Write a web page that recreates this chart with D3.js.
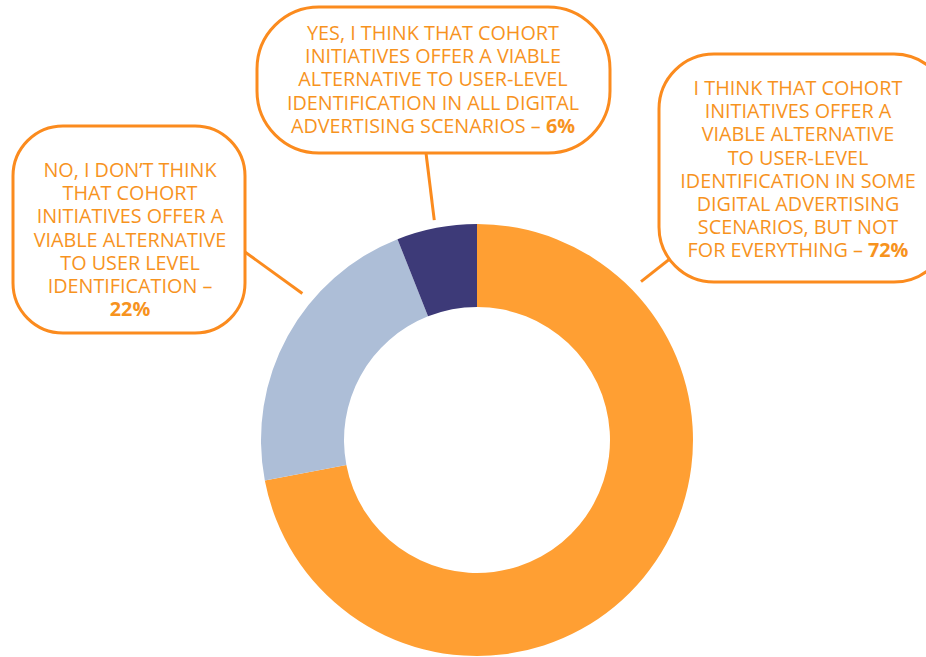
<!DOCTYPE html>
<html>
<head>
<meta charset="utf-8">
<script src="https://cdn.jsdelivr.net/npm/d3@7"></script>
<style>
  body { margin: 0; background: #fff; }
  svg { display: block; font-family: "Open Sans", sans-serif; }
</style>
</head>
<body>
<svg id="chart" width="926" height="657"></svg>
<script>
// data
const categories = ["Some scenarios", "No", "All scenarios"];
const values = [72, 22, 6];
const colors = ["#ff9f33", "#adbed7", "#3d3a78"];

const labelLines = [
  ["I THINK THAT COHORT", "INITIATIVES OFFER A", "VIABLE ALTERNATIVE", "TO USER-LEVEL",
   "IDENTIFICATION IN SOME", "DIGITAL ADVERTISING", "SCENARIOS, BUT NOT", "FOR EVERYTHING – "],
  ["NO, I DON’T THINK", "THAT COHORT", "INITIATIVES OFFER A", "VIABLE ALTERNATIVE",
   "TO USER LEVEL", "IDENTIFICATION –", ""],
  ["YES, I THINK THAT COHORT", "INITIATIVES OFFER A VIABLE", "ALTERNATIVE TO USER-LEVEL",
   "IDENTIFICATION IN ALL DIGITAL", "ADVERTISING SCENARIOS – "]
];

// bubble layout (box, corner radius, text centre, pointer)
const bubbles = [
  { x: 659, y: 54, w: 290, h: 228, r: 55, tx: 798, ty: 88, p1: [676, 254], angle: 46 },
  { x: 13, y: 126, w: 232, h: 207, r: 50, tx: 130, ty: 170, p1: [245, 252], angle: -50 },
  { x: 257, y: 7, w: 353, h: 146, r: 62, tx: 433, ty: 33, p1: [426, 153], angle: -11 }
];

const cx = 477, cy = 440, outerR = 216, innerR = 133;
const lineH = 23.2;
const stroke = "#fb8b1e";
const textCol = "#f7931e";

const svg = d3.select("#chart");

const pie = d3.pie().sort(null).value(d => d);
const arc = d3.arc().innerRadius(innerR).outerRadius(outerR);

const g = svg.append("g").attr("transform", `translate(${cx},${cy})`);
g.selectAll("path")
  .data(pie(values))
  .join("path")
  .attr("d", arc)
  .attr("fill", (d, i) => colors[i]);

// bubbles + pointers
bubbles.forEach((b, i) => {
  const a = b.angle * Math.PI / 180;
  const rr = i === 2 ? outerR + 8 : outerR + 12;
  svg.append("line")
    .attr("x1", b.p1[0]).attr("y1", b.p1[1])
    .attr("x2", cx + rr * Math.sin(a)).attr("y2", cy - rr * Math.cos(a))
    .attr("stroke", stroke).attr("stroke-width", 3);

  svg.append("rect")
    .attr("x", b.x).attr("y", b.y)
    .attr("width", b.w).attr("height", b.h)
    .attr("rx", b.r).attr("ry", b.r)
    .attr("fill", "#fff")
    .attr("stroke", stroke).attr("stroke-width", 3);

  const t = svg.append("text")
    .attr("text-anchor", "middle")
    .attr("fill", textCol)
    .attr("font-size", 19.8);

  labelLines[i].forEach((line, j) => {
    const ts = t.append("tspan")
      .attr("x", b.tx)
      .attr("y", b.ty + j * lineH)
      .attr("dy", "0.35em");
    ts.append("tspan").text(line);
    if (j === labelLines[i].length - 1) {
      ts.append("tspan").attr("font-weight", 700).text(values[i] + "%");
    }
  });
});
</script>
</body>
</html>
